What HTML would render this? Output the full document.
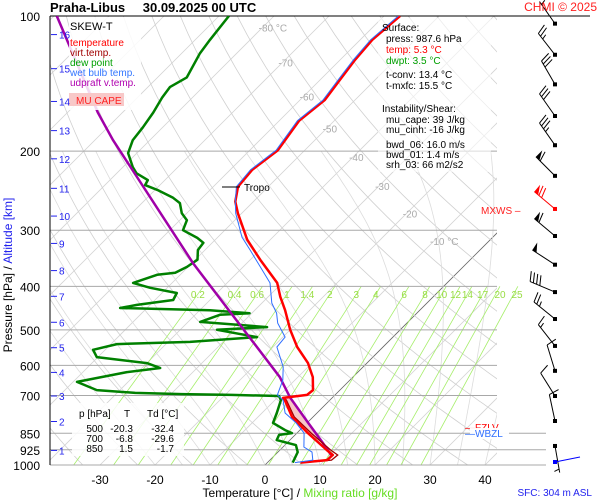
<!DOCTYPE html>
<html><head><meta charset="utf-8"><title>Skew-T Praha-Libus</title>
<style>
html,body{margin:0;padding:0;background:#fff;}
svg{display:block;font-family:"Liberation Sans",sans-serif;}
</style></head>
<body>
<svg id="chart" width="600" height="500" viewBox="0 0 600 500" xmlns="http://www.w3.org/2000/svg">
<defs>
<clipPath id="plotclip"><rect x="50" y="16" width="447" height="449"/></clipPath>
<clipPath id="mixclip"><rect x="50" y="16" width="475" height="449"/></clipPath>
</defs>
<rect x="0" y="0" width="600" height="500" fill="#fff"/>
<g id="grid" clip-path="url(#plotclip)"></g>
<g id="mix" clip-path="url(#mixclip)"></g>
<g id="isobars"></g>
<g><rect x="378" y="18" width="113" height="154" fill="#fff" fill-opacity="0.6"/></g>
<g id="series" clip-path="url(#plotclip)"></g>
<g id="overlay"></g>
<g id="barbs"></g>
<g id="axes"></g>
</svg>
<script>
// ---- data ----
const PRESS_TICKS = [100,200,300,400,500,600,700,850,925,1000];
const TEMP_TICKS = [-30,-20,-10,0,10,20,30,40];
const ISO_LABELS = [-80,-70,-60,-50,-40,-30,-20,-10];
const ISO_LABEL_P = [106,127,151,178,206,239,275,317];
const ALT_KM = [1,2,3,4,5,6,7,8,9,10,11,12,13,14,15,16];
const ALT_P = [928,800,702,622,548,481,421,369,321,279,242,208,180,155,131,110];
const MIX_W = [0.2,0.4,0.6,1,1.4,2,3,4,6,8,10,12,14,17,20,25];

const T_P = [988,975,950,926,849,782,717,709,698,681,637,593,546,500,452,422,393,349,315,275,259,240,220,199,171,154,139,125,113,100];
const T_VAL = [6.0,10.4,10.5,8.5,2.0,-3.8,-8.2,-8.9,-5.1,-4.9,-7.3,-10.7,-15.6,-20.0,-24.5,-27.8,-30.9,-38.2,-44.2,-50.7,-53.3,-55.5,-56.0,-54.9,-56.4,-55.5,-56.4,-57.3,-57.8,-57.1];

const TV_P = [988,975,950,926,849,782,717,709];
const TV_VAL = [6.5,11.2,11.4,9.2,2.6,-3.4,-7.9,-8.7];

const TW_P = [988,975,936,912,849,806,766,717,698,647,605,546,519,483,459,436,393,332,311,275,259,240,220,199,171,154,139,125,113,100];
const TW_VAL = [5.0,7.8,6.2,3.8,1.3,-2.0,-5.8,-8.5,-10.5,-12.2,-14.5,-19.3,-19.6,-23.5,-25.5,-28.2,-32.2,-41.8,-45.6,-51.1,-53.3,-55.8,-56.3,-55.2,-56.7,-55.8,-56.7,-57.6,-58.1,-57.4];

const TD_P = [988,936,903,880,857,849,836,806,766,717,702,698,695,691,681,653,621,608,593,575,554,538,532,519,500,493,480,463,459,452,447,440,429,414,403,393,377,373,362,349,332,320,312,300,285,275,261,254,244,238,232,224,217,202,189,177,164,152,144,137,121,113,100];
const TD_VAL = [4.6,3.6,2.0,-2.4,-2.9,-0.9,-2.7,-6.2,-7.3,-8.9,-10.0,-18.9,-28.0,-36.7,-44.2,-49.3,-42.0,-36.7,-40.0,-50.2,-52.2,-48.9,-36.0,-24.7,-33.3,-24.7,-37.8,-35.5,-30.4,-38.2,-54.9,-52.4,-46.7,-47.3,-53.1,-57.1,-54.2,-51.3,-50.2,-49.6,-51.3,-51.6,-53.6,-57.6,-58.7,-60.9,-63.1,-65.3,-69.6,-72.7,-73.1,-76.4,-78.2,-81.6,-83.1,-83.6,-84.4,-85.5,-86.0,-84.7,-86.7,-87.3,-88.2];

const PAR_P = [950,893,806,709,637,355,189,164,100];
const PAR_VAL = [10.2,6.5,0.2,-7.6,-13.3,-49.8,-86.7,-94.5,-119.5];

const BARB_P = [104,122,142,167,194,227,269,309,358,412,473,543,617,702,798,907];
const BARB_DIR = [325,322,330,325,325,315,310,310,303,293,309,322,343,328,348,170];
const BARB_SPD = [5,25,30,30,35,60,70,60,50,40,25,15,10,10,10,5];

// ---- axis functions ----
const X0 = 265, Y0 = 465, KP = 195, KT = 5.5;
function yP(p){ return Y0 - KP*Math.log(1000/p); }
function xT(t,p){ return X0 + KT*t + (Y0 - yP(p)); }
const NS = "http://www.w3.org/2000/svg";
function mk(tag, attrs, parent){
  const e = document.createElementNS(NS, tag);
  for (const k in attrs) e.setAttribute(k, attrs[k]);
  parent.appendChild(e);
  return e;
}
function pathFrom(P, T){
  return P.map((p,i)=>(i?"L":"M")+xT(T[i],p).toFixed(1)+","+yP(p).toFixed(1)).join("");
}
function interpT(P,T,p){
  for (let i=0;i<P.length-1;i++){
    const a=P[i], b=P[i+1];
    if ((p<=a && p>=b)||(p>=a&&p<=b)){
      const f=(Math.log(p)-Math.log(a))/(Math.log(b)-Math.log(a));
      return T[i]+f*(T[i+1]-T[i]);
    }
  }
  return T[T.length-1];
}
const grid = document.getElementById('grid');
const mix = document.getElementById('mix');
const isob = document.getElementById('isobars');
const series = document.getElementById('series');
const overlay = document.getElementById('overlay');
const barbs = document.getElementById('barbs');
const axes = document.getElementById('axes');

for (let t=-130; t<=40; t+=10){
  const l = mk('line',{x1:xT(t,1050),y1:yP(1050),x2:xT(t,100),y2:yP(100),stroke:t===0?'#666':'#d4d4d4','stroke-width':0.8},grid);
  
  
}
for (let th=230; th<=500; th+=10){
  let d="";
  for (let p=1050;p>=100;p-=10){
    const t = th*Math.pow(p/1000,0.2857)-273.15;
    d += (p===1050?"M":"L")+xT(t,p).toFixed(1)+","+yP(p).toFixed(1);
  }
  const e = mk('path',{d:d,fill:'none',stroke:'#d0d0d0','stroke-width':0.8},grid);
  
  
}
function es(tc){ return 6.112*Math.exp(17.67*tc/(tc+243.5)); }
for (let t0=-20; t0<=40; t0+=5){
  let T=t0+273.15, d="M"+xT(t0,1000).toFixed(1)+","+yP(1000).toFixed(1);
  for (let p=1000;p>200;p-=5){
    const tc=T-273.15, e=es(tc), rs=0.622*e/(p-e);
    const dTdp=(287*T+2.5e6*rs)/(p*(1004+2.5e6*2.5e6*rs*0.622/(287*T*T)));
    T -= dTdp*5;
    d += "L"+xT(T-273.15,p-5).toFixed(1)+","+yP(p-5).toFixed(1);
  }
  const e = mk('path',{d:d,fill:'none',stroke:'#dcdcdc','stroke-width':0.8},grid);
  
  
}
function tdFromW(w,p){ const e=w*p/(622+w); const L=Math.log(e/6.112); return 243.5*L/(17.67-L); }
MIX_W.forEach(w=>{
  const l = mk('line',{x1:xT(tdFromW(w,1000),1000),y1:yP(1000),x2:xT(tdFromW(w,400),400),y2:yP(400),stroke:'#a6ee6a','stroke-width':0.8},mix);
  
  
  let lx = xT(tdFromW(w,416),416);
  if (w===20) lx = 500; if (w===25) lx = 517;
  const tx = mk('text',{x:lx,y:yP(416)+4,'text-anchor':'middle','font-size':10,fill:'#99dd44'},overlay);
  tx.textContent = String(w);
  
  
});
PRESS_TICKS.forEach(p=>{
  const y=yP(p);
  const x2 = (p>=850)?546:497;
  const l = mk('line',{x1:50,y1:y,x2:x2,y2:y,stroke:p===100?'#000':'#a8a8a8','stroke-width':1},isob);
  
  
  const t = mk('text',{x:40,y:y+5,'text-anchor':'end','font-size':12,fill:'#000'},axes);
  t.textContent = String(p);
  
  
});
const tl = mk('line',{x1:497,y1:yP(100),x2:590,y2:yP(100),stroke:'#000','stroke-width':1},isob);


const la = mk('line',{x1:50,y1:16,x2:50,y2:465,stroke:'#000','stroke-width':1},axes);


TEMP_TICKS.forEach(t=>{
  const tx = mk('text',{x:xT(t,1000),y:484,'text-anchor':'middle','font-size':12,fill:'#000'},axes);
  tx.textContent = String(t);
  
  
});
ISO_LABELS.forEach((t,i)=>{
  const p=ISO_LABEL_P[i];
  const tx = mk('text',{x:xT(t,p)-4,y:yP(p)+4,'font-size':10,fill:'#aaa'},overlay);
  tx.textContent = (t===-80||t===-10)? (t+" °C") : String(t);
  
  
});

(function(){
  const ps=[860,849,806,760,709];
  let d="";
  ps.forEach((p,i)=>{ d+=(i?"L":"M")+xT(interpT(PAR_P,PAR_VAL,p),p).toFixed(1)+","+yP(p).toFixed(1); });
  ps.slice().reverse().forEach(p=>{ d+="L"+xT(interpT(T_P,T_VAL,p),p).toFixed(1)+","+yP(p).toFixed(1); });
  const e = mk('path',{d:d+"Z",fill:'#f6c6c6',stroke:'none'},series);
  
  
})();

let s;
s = mk('path',{d:pathFrom(TD_P,TD_VAL),fill:'none',stroke:'#008000','stroke-width':2.5,'stroke-linejoin':'round'},series);


s = mk('path',{d:pathFrom(PAR_P,PAR_VAL),fill:'none',stroke:'#a000a8','stroke-width':2.5},series);


s = mk('path',{d:pathFrom(TV_P,TV_VAL),fill:'none',stroke:'#a00000','stroke-width':1.3},series);


s = mk('path',{d:pathFrom(T_P,T_VAL),fill:'none',stroke:'#ff0000','stroke-width':2.5,'stroke-linejoin':'round'},series);


s = mk('path',{d:pathFrom(TW_P,TW_VAL),fill:'none',stroke:'#2f6fff','stroke-width':1},series);



function drawBarb(p,dir,spd,color){
  const g = mk('g',{},barbs);
  
  
  const x=555, y=yP(p);
  const r=dir*Math.PI/180, ux=Math.sin(r), uy=-Math.cos(r);
  const L=27, tx=x+ux*L, ty=y+uy*L;
  mk('line',{x1:x,y1:y,x2:tx,y2:ty,stroke:color,'stroke-width':1},g);
  mk('rect',{x:x-2,y:y-2,width:4,height:4,fill:color},g);
  const fx=-uy, fy=ux;
  let pos=0, rem=Math.round(spd/5)*5;
  while(rem>=50){
    const bx=tx-ux*pos, by=ty-uy*pos;
    mk('polygon',{points:`${bx},${by} ${bx-ux*5},${by-uy*5} ${bx+fx*9},${by+fy*9}`,fill:color},g);
    pos+=6; rem-=50;
  }
  while(rem>=10){
    const bx=tx-ux*pos, by=ty-uy*pos;
    mk('line',{x1:bx,y1:by,x2:bx+fx*10+ux*3,y2:by+fy*10+uy*3,stroke:color,'stroke-width':1},g);
    pos+=3.5; rem-=10;
  }
  if(rem>=5){
    if(pos===0) pos=3.5;
    const bx=tx-ux*pos, by=ty-uy*pos;
    mk('line',{x1:bx,y1:by,x2:bx+fx*5+ux*1.5,y2:by+fy*5+uy*1.5,stroke:color,'stroke-width':1},g);
  }
}
BARB_P.forEach((p,i)=>drawBarb(p,BARB_DIR[i],BARB_SPD[i], p===269?'#ff0000':'#000'));
</script>
<script>
(function(){
const NS="http://www.w3.org/2000/svg";
const svg=document.getElementById('chart');
const html = `
<g><line x1="555" y1="462" x2="580" y2="457" stroke="#0000ff" stroke-width="1"/><rect x="553" y="460" width="4" height="4" fill="#0000ff"/></g>
<text x="50" y="12" font-size="13" font-weight="bold" fill="#000">Praha-Libus <tspan dx="14">30.09.2025 00 UTC</tspan></text>
<text x="597" y="11" font-size="12" fill="#ff2020" text-anchor="end">CHMI © 2025</text>
<g>
<rect x="69" y="17" width="72" height="93" fill="#fff" fill-opacity="0.85"/>
<text x="70" y="30" font-size="11" fill="#000">SKEW-T</text>
<text x="70" y="46" font-size="10" fill="#ff0000">temperature</text>
<text x="70" y="56" font-size="10" fill="#a00000">virt.temp.</text>
<text x="70" y="66" font-size="10" fill="#00a000">dew point</text>
<text x="70" y="76" font-size="10" fill="#3377ff">wet bulb temp.</text>
<text x="70" y="86" font-size="10" fill="#b000b0">udpraft v.temp.</text>
<rect x="69" y="93" width="55" height="13" fill="#f8c8c8"/>
<text x="76" y="104" font-size="10" fill="#ff2020">MU CAPE</text>
</g>
<g>
<text x="382" y="31" font-size="10" fill="#000">Surface:</text>
<text x="386" y="42" font-size="10" fill="#000">press: 987.6 hPa</text>
<text x="386" y="53" font-size="10" fill="#ff0000">temp: 5.3 °C</text>
<text x="386" y="64" font-size="10" fill="#00a000">dwpt: 3.5 °C</text>
<text x="386" y="78" font-size="10" fill="#000">t-conv: 13.4 °C</text>
<text x="386" y="89" font-size="10" fill="#000">t-mxfc: 15.5 °C</text>
<text x="382" y="112" font-size="10" fill="#000">Instability/Shear:</text>
<text x="386" y="123" font-size="10" fill="#000">mu_cape: 39 J/kg</text>
<text x="386" y="133" font-size="10" fill="#000">mu_cinh: -16 J/kg</text>
<text x="386" y="148" font-size="10" fill="#000">bwd_06: 16.0 m/s</text>
<text x="386" y="158" font-size="10" fill="#000">bwd_01: 1.4 m/s</text>
<text x="386" y="168" font-size="10" fill="#000">srh_03: 66 m2/s2</text>
</g>
<g>
<rect x="72" y="403" width="112" height="53" fill="#fff" fill-opacity="0.85"/>
<text x="79" y="417" font-size="10" fill="#000">p [hPa]</text>
<text x="124" y="417" font-size="10" fill="#000">T</text>
<text x="147" y="417" font-size="10" fill="#000">Td [°C]</text>
<text x="103" y="432" font-size="10" fill="#000" text-anchor="end">500</text>
<text x="133" y="432" font-size="10" fill="#000" text-anchor="end">-20.3</text>
<text x="174" y="432" font-size="10" fill="#000" text-anchor="end">-32.4</text>
<text x="103" y="442" font-size="10" fill="#000" text-anchor="end">700</text>
<text x="133" y="442" font-size="10" fill="#000" text-anchor="end">-6.8</text>
<text x="174" y="442" font-size="10" fill="#000" text-anchor="end">-29.6</text>
<text x="103" y="452" font-size="10" fill="#000" text-anchor="end">850</text>
<text x="133" y="452" font-size="10" fill="#000" text-anchor="end">1.5</text>
<text x="174" y="452" font-size="10" fill="#000" text-anchor="end">-1.7</text>
</g>
<g><line x1="222" y1="187" x2="240" y2="187" stroke="#000" stroke-width="1"/><text x="244" y="191" font-size="10" fill="#000">Tropo</text></g>
<text x="481" y="214" font-size="10" fill="#ff2020">MXWS –</text>
<g>
<text x="465" y="431" font-size="10" fill="#ff0000">—FZLV</text>
<rect x="470" y="428" width="39" height="11" fill="#fff" fill-opacity="0.95"/>
<text x="465" y="437" font-size="10" fill="#2f6fff">—WBZL</text>
</g>
<text x="300" y="497" font-size="12" text-anchor="middle"><tspan fill="#000">Temperature [°C]  /  </tspan><tspan fill="#66dd22">Mixing ratio [g/kg]</tspan></text>
<text x="592" y="496" font-size="10" text-anchor="end" fill="#2222ee">SFC: 304 m ASL</text>
<text transform="translate(12,275) rotate(-90)" font-size="12" text-anchor="middle"><tspan fill="#000">Pressure [hPa]  /  </tspan><tspan fill="#2222ee">Altitude [km]</tspan></text>
`;
const g=document.createElementNS(NS,'g');


g.innerHTML=html;
svg.appendChild(g);
const NS2=NS;
const axes=document.getElementById('axes');
ALT_KM.forEach((k,i)=>{
  const y=yP(ALT_P[i]);
  const l=document.createElementNS(NS2,'line');
  l.setAttribute('x1',51);l.setAttribute('y1',y);l.setAttribute('x2',57);l.setAttribute('y2',y);
  l.setAttribute('stroke','#2222ee');l.setAttribute('stroke-width',1);
  
  
  svg.appendChild(l);
  const t=document.createElementNS(NS2,'text');
  t.setAttribute('x',59);t.setAttribute('y',y+4);t.setAttribute('font-size',10);t.setAttribute('fill','#2222ee');
  t.textContent=String(k);
  
  
  svg.appendChild(t);
});
})();
</script>
</body></html>
